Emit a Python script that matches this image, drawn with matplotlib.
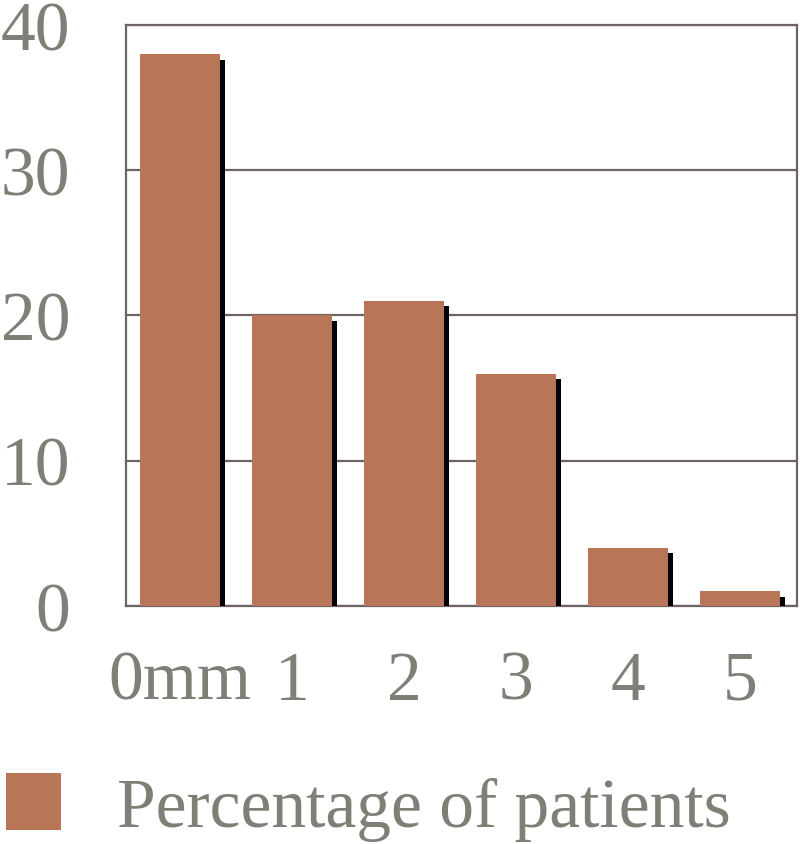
from matplotlib import pyplot as plt
import matplotlib.patheffects as pe
from matplotlib.patches import Patch

# gap size categories and percentage of patients
categories = ['0mm', '1', '2', '3', '4', '5']
percent = [38, 20, 21, 16, 4, 1]
yticks = [0, 10, 20, 30, 40]

bar_color = '#b97656'
text_color = '#7f7f77'
line_color = '#6f6464'

plt.rcParams['font.family'] = ['Liberation Serif', 'DejaVu Serif']

fig = plt.figure(figsize=(8, 8.45), dpi=100)
ax = fig.add_axes([0.1575, 0.2817, 0.839, 0.6876])

x = range(len(categories))
bars = ax.bar(x, percent, width=0.71, color=bar_color, zorder=3)
for b in bars:
    b.set_path_effects([pe.SimplePatchShadow(offset=(4, -4), shadow_rgbFace='black', alpha=1),
                        pe.Normal()])

ax.set_xlim(-0.48, 5.51)
ax.set_ylim(0, 40)
ax.set_yticks(yticks)
ax.set_xticks(list(x))
ax.set_xticklabels(categories)
ax.yaxis.grid(True, color=line_color, linewidth=1.6, zorder=0)
ax.set_axisbelow(True)
ax.tick_params(axis='y', length=0, pad=40, labelsize=50, labelcolor=text_color)
ax.tick_params(axis='x', length=0, pad=32, labelsize=50, labelcolor=text_color)
for s in ax.spines.values():
    s.set_color(line_color)
    s.set_linewidth(1.6)

# legend (plain square, no shadow)
proxy = Patch(facecolor=bar_color)
fig.legend(handles=[proxy], labels=['Percentage of patients'], loc='lower left',
           bbox_to_anchor=(0.003, 0.0), frameon=False, fontsize=50,
           labelcolor=text_color, handlelength=0.8, handleheight=0.87,
           handletextpad=0.8, borderaxespad=0.0, borderpad=0.05)

fig.savefig('out.png', dpi=100)
